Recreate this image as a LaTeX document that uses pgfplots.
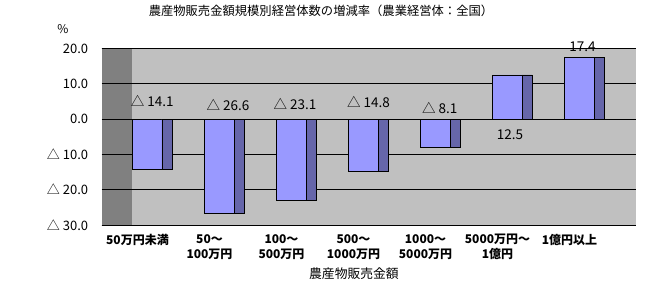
\documentclass[border=0pt]{standalone}
\usepackage{fontspec}
\setmainfont{Noto Sans CJK JP}
\usepackage{pgfplots}
\pgfplotsset{compat=1.18}
\definecolor{wallgray}{RGB}{128,128,128}
\definecolor{areagray}{RGB}{192,192,192}
\definecolor{barfront}{RGB}{153,153,255}
\definecolor{barside}{RGB}{102,102,170}
\begin{document}
\begin{tikzpicture}
\path (0,0) rectangle (668bp,299bp);
\begin{axis}[
  at={(101.7bp,74bp)}, anchor=south west,
  scale only axis, width=534.3bp, height=176.5bp,
  xmin=-0.4972, xmax=6.9236, ymin=-30, ymax=20,
  clip=false,
  axis background/.style={fill=areagray, path picture={\fill[wallgray] (path picture bounding box.south west) rectangle ([xshift=30bp]path picture bounding box.north west);}},
  xtick={0,...,6},
  xticklabels={50万円未満, {50～\\100万円}, {100～\\500万円}, {500～\\1000万円}, {1000～\\5000万円}, {5000万円～\\1億円}, 1億円以上},
  xticklabel style={align=center, font=\bfseries\fontsize{12bp}{15bp}\selectfont, anchor=north, inner sep=0pt, yshift=-9bp},
  ytick={-30,-20,-10,0,10,20},
  yticklabels={△ 30.0, △ 20.0, △ 10.0, 0.0, 10.0, 20.0},
  yticklabel style={font=\fontsize{13bp}{15bp}\selectfont, anchor=east, inner sep=0pt, xshift=-13.4bp},
  major tick length=0pt,
  ymajorgrids,
  grid style={black, line width=0.8bp},
  separate axis lines,
  x axis line style={black, line width=1bp},
  y axis line style={draw=none},
  xlabel={農産物販売金額},
  xlabel style={at={(axis description cs:0.4722,0)}, anchor=center, yshift=-49bp, font=\fontsize{12.8bp}{14bp}\selectfont},
  title={農産物販売金額規模別経営体数の増減率（農業経営体：全国）},
  title style={at={(axis description cs:0.4104,1)}, anchor=center, yshift=31.8bp, font=\fontsize{12.3bp}{14bp}\selectfont},
]
\addplot[ybar, bar width=29.3bp, bar shift=9.7bp, fill=barfront, draw=black, line width=0.6bp]
  coordinates {(0,-14.1) (1,-26.6) (2,-23.1) (3,-14.8) (4,-8.1) (5,12.5) (6,17.4)};
\addplot[ybar, bar width=10bp, bar shift=29.5bp, fill=barside, draw=black, line width=0.6bp]
  coordinates {(0,-14.1) (1,-26.6) (2,-23.1) (3,-14.8) (4,-8.1) (5,12.5) (6,17.4)};
\addplot[draw=none, mark=none, nodes near coords, point meta=explicit symbolic,
  nodes near coords style={anchor=center, inner sep=0pt, text=black, font=\fontsize{13.5bp}{15bp}\selectfont}]
  coordinates {
  (0.206,5.1) [△ 14.1]
  (1.257,4.1) [△ 26.6]
  (2.188,4.3) [△ 23.1]
  (3.208,4.9) [△ 14.8]
  (4.197,3.2) [△ 8.1]
  (5.174,-4.45) [12.5]
  (6.18,20.5) [17.4]
  };
\node[font=\fontsize{12bp}{14bp}\selectfont, yshift=19.5bp] at (axis description cs:-0.0724,1) {\%};
\end{axis}
\end{tikzpicture}
\end{document}
